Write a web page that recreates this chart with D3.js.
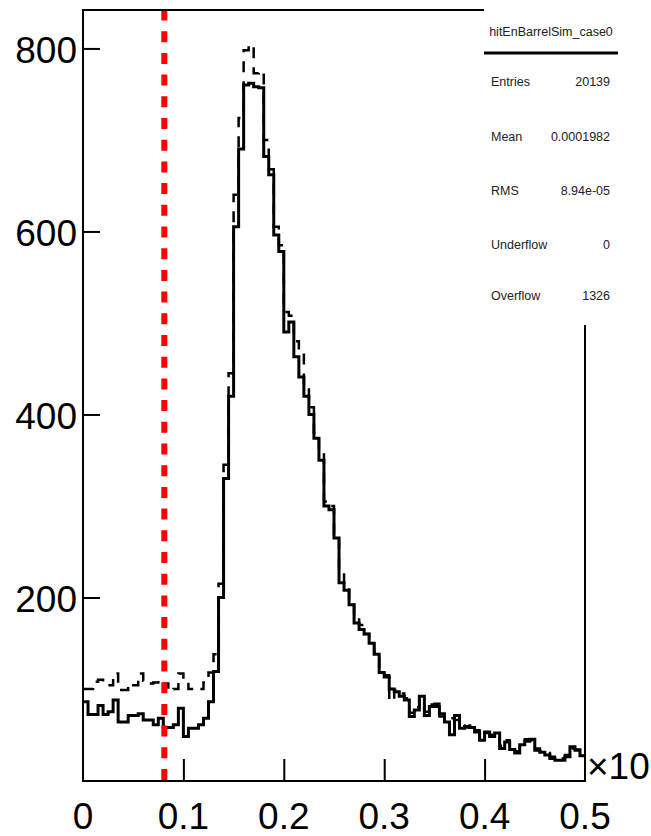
<!DOCTYPE html>
<html>
<head>
<meta charset="utf-8">
<script src="https://cdn.jsdelivr.net/npm/d3@7"></script>
<style>
  body { margin: 0; background: #fff; }
  svg { display: block; }
</style>
</head>
<body>
<div id="chart"></div>
<script>
// histogram contents, 100 bins of 0.005 between 0 and 0.5 (x10^-3)
var binWidth = 0.005;
var solidCounts = [
  86, 72, 72, 82, 72, 75, 88, 64, 64, 71, 71, 73, 66, 66, 61, 68, 58, 58, 61, 79,
  48, 57, 57, 61, 68, 86, 119, 200, 330, 420, 605, 690, 760, 762, 758, 757, 682, 662, 596, 578,
  490, 501, 463, 441, 420, 400, 374, 350, 300, 296, 265, 216, 208, 192, 172, 165, 160, 150, 138, 118,
  113, 100, 97, 92, 88, 70, 77, 92, 71, 81, 81, 73, 64, 50, 71, 57, 59, 58, 53,
  44, 53, 48, 52, 35, 42, 34, 30, 39, 43, 45, 33, 31, 28, 24, 22, 22, 26, 37, 33, 27
];
var dashedCounts = [
  100, 100, 108, 110, 106, 104, 117, 99, 99, 106, 104, 117, 109, 106, 107, 110, 106, 98, 100, 117,
  108, 100, 99, 100, 107, 118, 138, 215, 345, 445, 640, 724, 798, 804, 773, 775, 700, 668, 605, 585,
  512, 508, 480, 470, 430, 408, 380, 358, 305, 300, 270, 228, 212, 195, 178, 170, 160, 155, 140, 122,
  115, 87, 99, 95, 90, 74, 80, 88, 75, 83, 84, 70, 66, 68, 66, 60, 58, 60, 55,
  47, 52, 50, 50, 38, 44, 36, 32, 41, 45, 44, 35, 32, 30, 26, 23, 24, 28, 35, 34, 30
];
var cutValue = 0.081;
var xTicks = [0, 0.1, 0.2, 0.3, 0.4, 0.5];
var yTicks = [200, 400, 600, 800];
var statTitle = "hitEnBarrelSim_case0";
var statNames = ["Entries", "Mean", "RMS", "Underflow", "Overflow"];
var statValues = ["20139", "0.0001982", "8.94e-05", "0", "1326"];

var w = 651, h = 836;
var frameL = 83, frameR = 585, frameT = 10, frameB = 781;

var svg = d3.select("#chart").append("svg")
  .attr("width", w).attr("height", h);

svg.append("rect").attr("width", w).attr("height", h).attr("fill", "white");

var x = d3.scaleLinear().domain([0, 0.5]).range([frameL, frameR]);
var y = d3.scaleLinear().domain([0, 842]).range([780.5, frameT]);

function histPath(counts) {
  var p = d3.path();
  counts.forEach(function(c, i) {
    var x0 = x(i * binWidth), x1 = x((i + 1) * binWidth);
    if (i == 0) p.moveTo(x0, y(c));
    else p.lineTo(x0, y(c));
    p.lineTo(x1, y(c));
  });
  return p.toString();
}

// dashed histogram
svg.append("path")
  .attr("d", histPath(dashedCounts))
  .attr("fill", "none")
  .attr("stroke", "black")
  .attr("stroke-width", 2.5)
  .attr("stroke-dasharray", "11,9");

// solid histogram
svg.append("path")
  .attr("d", histPath(solidCounts))
  .attr("fill", "none")
  .attr("stroke", "black")
  .attr("stroke-width", 3);

// red cut line
svg.append("line")
  .attr("x1", x(cutValue)).attr("x2", x(cutValue))
  .attr("y1", 780).attr("y2", frameT)
  .attr("stroke", "#f00")
  .attr("stroke-width", 6)
  .attr("stroke-dasharray", "11,10.7");

// frame
svg.append("rect")
  .attr("x", frameL).attr("y", frameT)
  .attr("width", frameR - frameL).attr("height", frameB - frameT)
  .attr("fill", "none").attr("stroke", "black").attr("stroke-width", 2);

// axes (ticks inside the frame)
var xAxis = d3.axisBottom(x).tickValues(xTicks.slice(1, 5)).tickSize(-22).tickFormat("");
svg.append("g").attr("transform", "translate(0," + frameB + ")").call(xAxis)
  .call(function(g) {
    g.select(".domain").remove();
    g.selectAll("line").attr("stroke", "black").attr("stroke-width", 2);
  });

var yAxis = d3.axisLeft(y).tickValues(yTicks).tickSize(-17).tickFormat("");
svg.append("g").attr("transform", "translate(" + frameL + ",0)").call(yAxis)
  .call(function(g) {
    g.select(".domain").remove();
    g.selectAll("line").attr("stroke", "black").attr("stroke-width", 2);
  });

var font = "'Liberation Sans', Arial, Helvetica, sans-serif";

svg.selectAll(".xlab").data(xTicks).enter().append("text")
  .attr("x", function(d) { return x(d); })
  .attr("y", 829)
  .attr("text-anchor", "middle")
  .attr("font-family", font).attr("font-size", "37px")
  .text(function(d) { return d; });

svg.selectAll(".ylab").data(yTicks).enter().append("text")
  .attr("x", 77)
  .attr("y", function(d) { return y(d) + 15; })
  .attr("text-anchor", "end")
  .attr("font-family", font).attr("font-size", "37px")
  .text(function(d) { return d; });

svg.append("text")
  .attr("x", 587).attr("y", 779)
  .attr("font-family", font).attr("font-size", "37px")
  .text("\u00d710");

// stats box
svg.append("rect")
  .attr("x", 484).attr("y", 0)
  .attr("width", w - 484).attr("height", 325)
  .attr("fill", "white");

svg.append("text")
  .attr("x", 551).attr("y", 36)
  .attr("text-anchor", "middle")
  .attr("font-family", font).attr("font-size", "12.5px").attr("fill", "#222")
  .text(statTitle);

svg.append("line")
  .attr("x1", 484).attr("x2", 618)
  .attr("y1", 53).attr("y2", 53)
  .attr("stroke", "black").attr("stroke-width", 3);

var rowY = [86, 141, 195, 249, 300];
statNames.forEach(function(n, i) {
  svg.append("text")
    .attr("x", 491).attr("y", rowY[i])
    .attr("font-family", font).attr("font-size", "12.5px").attr("fill", "#222")
    .text(n);
  svg.append("text")
    .attr("x", 610).attr("y", rowY[i])
    .attr("text-anchor", "end")
    .attr("font-family", font).attr("font-size", "12.5px").attr("fill", "#222")
    .text(statValues[i]);
});
</script>
</body>
</html>
